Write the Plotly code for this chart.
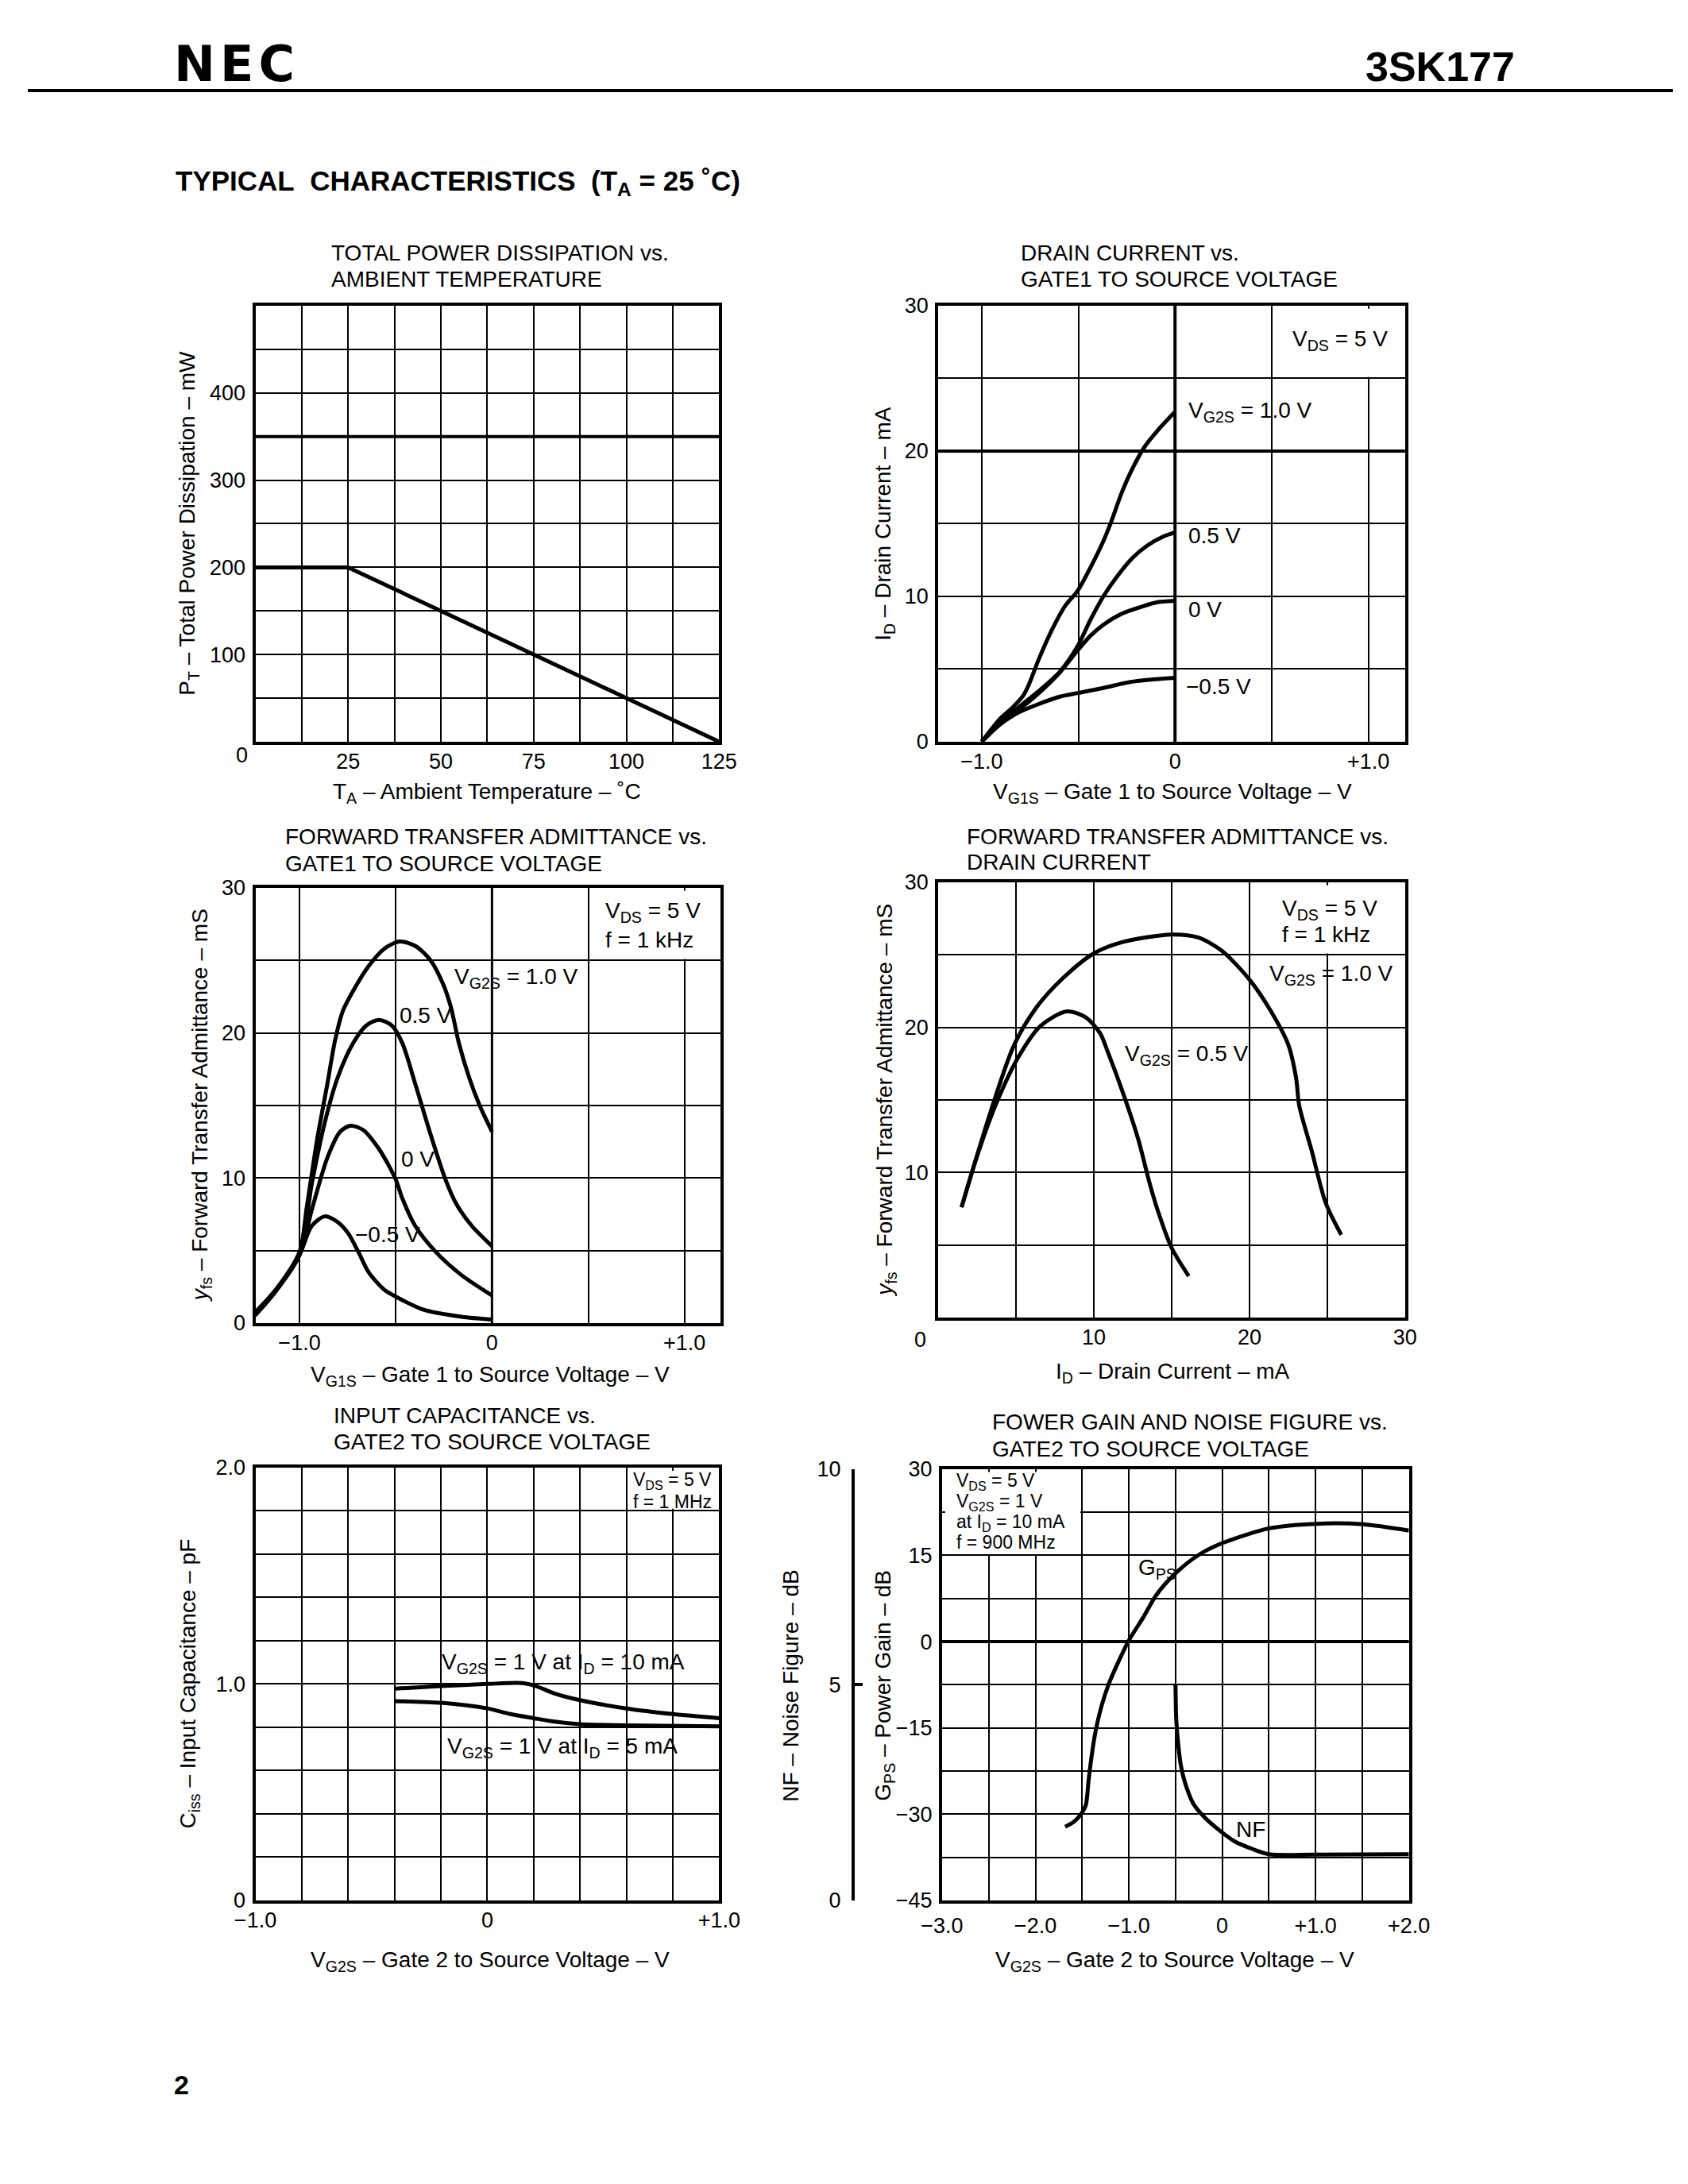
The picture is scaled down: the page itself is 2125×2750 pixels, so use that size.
import plotly.graph_objects as go

W, H = 2125, 2750          # figure size
OFF = 8                    # the page body margin shifts the figure; compensate positions
FONT = "Liberation Sans, Arial, Helvetica, sans-serif"
MINUS = "\u2212"

# ---------------- data ----------------
# 1) Total power dissipation vs. ambient temperature
p1_ta = [0, 25, 125]
p1_pt = [200, 200, 0]
p1_x_ticks = [0, 12.5, 25, 37.5, 50, 62.5, 75, 87.5, 100, 112.5, 125]
p1_x_labels = ["", "", "25", "", "50", "", "75", "", "100", "", "125"]
p1_y_ticks = [0, 50, 100, 150, 200, 250, 300, 350, 400, 450, 500]
p1_y_labels = ["", "", "100", "", "200", "", "300", "", "400", "", ""]

# 2) Drain current vs. gate1 to source voltage (VDS = 5 V)
p2_vg1s_10 = [-1.0, -0.904, -0.837, -0.784, -0.757, -0.704, -0.637, -0.571, -0.503, -0.437,
              -0.371, -0.331, -0.277, -0.224, -0.157, -0.091, 0.0]
p2_id_10 = [0.0, 1.6, 2.4, 3.2, 3.9, 5.7, 7.7, 9.3, 10.4, 12.0, 13.8, 15.1, 17.1, 18.7, 20.3, 21.4, 22.7]
p2_vg1s_05 = [-1.0, -0.904, -0.811, -0.704, -0.597, -0.503, -0.437, -0.371, -0.304, -0.224, -0.144, -0.064, 0.0]
p2_id_05 = [0.0, 1.36, 2.35, 3.5, 4.8, 6.6, 8.4, 10.0, 11.3, 12.6, 13.5, 14.1, 14.4]
p2_vg1s_00 = [-1.0, -0.904, -0.811, -0.704, -0.597, -0.503, -0.437, -0.371, -0.277, -0.171, -0.091, 0.0]
p2_id_00 = [0.0, 1.3, 2.17, 3.35, 4.75, 6.3, 7.3, 8.05, 8.8, 9.3, 9.6, 9.7]
p2_vg1s_m05 = [-1.0, -0.904, -0.811, -0.704, -0.597, -0.503, -0.371, -0.237, -0.104, 0.0]
p2_id_m05 = [0.0, 1.2, 2.0, 2.6, 3.1, 3.35, 3.7, 4.1, 4.3, 4.4]
vg1s_ticks = [-1.0, -0.5, 0.0, 0.5, 1.0]
vg1s_labels = [MINUS + "1.0", "", "0", "", "+1.0"]
ma30_ticks = [0, 5, 10, 15, 20, 25, 30]
ma30_labels = ["0", "", "10", "", "20", "", "30"]

# 3) Forward transfer admittance vs. gate1 to source voltage
p3_vg1s_10 = [-1.231, -1.123, -1.0, -0.962, -0.909, -0.855, -0.815, -0.775, -0.721, -0.641, -0.560,
              -0.480, -0.399, -0.319, -0.252, -0.212, -0.172, -0.118, -0.064, 0.0]
p3_yfs_10 = [0.73, 2.3, 4.9, 8.0, 12.6, 16.5, 19.5, 21.5, 22.9, 24.6, 25.8,
             26.3, 26.0, 25.0, 23.3, 21.7, 19.3, 16.9, 15.0, 13.2]
p3_vg1s_05 = [-1.231, -1.123, -1.0, -0.936, -0.869, -0.802, -0.721, -0.654, -0.587, -0.520, -0.466,
              -0.399, -0.319, -0.239, -0.185, -0.105, 0.0]
p3_yfs_05 = [0.53, 2.2, 4.7, 9.6, 13.8, 16.9, 19.3, 20.5, 20.9, 20.5, 19.3,
             16.5, 13.0, 9.8, 8.2, 6.7, 5.3]
p3_vg1s_00 = [-1.231, -1.123, -1.0, -0.936, -0.855, -0.788, -0.735, -0.668, -0.587, -0.534, -0.497,
              -0.466, -0.399, -0.292, -0.158, 0.0]
p3_yfs_00 = [0.53, 2.2, 4.7, 7.8, 11.4, 13.2, 13.6, 13.3, 12.0, 10.8, 9.8,
             8.6, 6.7, 4.9, 3.3, 1.9]
p3_vg1s_m05 = [-1.231, -1.097, -1.0, -0.936, -0.869, -0.802, -0.748, -0.694, -0.641, -0.560, -0.497,
               -0.359, -0.158, 0.0]
p3_yfs_m05 = [0.63, 2.7, 4.7, 6.7, 7.35, 6.96, 6.2, 4.9, 3.5, 2.3, 1.8, 0.93, 0.43, 0.24]

# 4) Forward transfer admittance vs. drain current
p4_id_10 = [1.5, 2.22, 3.43, 4.88, 6.33, 8.02, 10.0, 11.9, 15.0, 16.7, 18.2, 20.0, 21.5, 22.5,
            23.0, 23.2, 24.0, 24.9, 25.9]
p4_yfs_10 = [7.6, 10.2, 14.4, 18.8, 21.4, 23.4, 25.1, 25.9, 26.4, 26.2, 25.3, 23.3, 20.9, 18.8,
             16.5, 14.6, 11.5, 7.9, 5.7]
p4_id_05 = [1.5, 2.46, 3.67, 5.12, 6.57, 8.26, 9.47, 10.4, 10.9, 11.9, 12.85, 13.6, 14.1, 15.0, 16.1]
p4_yfs_05 = [7.6, 11.0, 14.6, 17.9, 20.1, 21.1, 20.7, 19.6, 18.3, 15.4, 12.3, 9.2, 7.4, 4.8, 2.85]
p4_x_labels = ["", "", "10", "", "20", "", "30"]
p4_y_labels = ["", "", "10", "", "20", "", "30"]

# 5) Input capacitance vs. gate2 to source voltage
p5_vg2s_10ma = [-0.4, -0.2, 0.0, 0.15, 0.21, 0.29, 0.4, 0.6, 0.8, 1.0]
p5_ciss_10ma = [0.978, 0.990, 1.0, 1.004, 0.99, 0.956, 0.925, 0.887, 0.861, 0.842]
p5_vg2s_5ma = [-0.4, -0.2, 0.0, 0.1, 0.2, 0.29, 0.4, 0.6, 1.0]
p5_ciss_5ma = [0.921, 0.913, 0.887, 0.861, 0.842, 0.826, 0.814, 0.809, 0.804]
p5_x_ticks = [-1.0, -0.8, -0.6, -0.4, -0.2, 0.0, 0.2, 0.4, 0.6, 0.8, 1.0]
p5_x_labels = [MINUS + "1.0", "", "", "", "", "0", "", "", "", "", "+1.0"]
p5_y_ticks = [0.0, 0.2, 0.4, 0.6, 0.8, 1.0, 1.2, 1.4, 1.6, 1.8, 2.0]
p5_y_labels = ["0", "", "", "", "", "1.0", "", "", "", "", "2.0"]

# 6) Power gain and noise figure vs. gate2 to source voltage
p6_vg2s_gps = [-1.682, -1.585, -1.5, -1.46, -1.432, -1.405, -1.363, -1.294, -1.211, -1.114, -1.0,
               -0.846, -0.706, -0.492, -0.24, 0.012, 0.506, 1.01, 1.508, 2.0]
p6_gps = [-32.2, -31.3, -29.7, -28.4, -24.3, -20.7, -16.2, -11.3, -7.2, -3.6, 0.2,
          4.2, 8.1, 12.0, 15.2, 17.2, 19.7, 20.5, 20.4, 19.3]
p6_vg2s_nf = [-0.5, -0.492, -0.47, -0.44, -0.394, -0.311, -0.2, -0.062, 0.132, 0.326, 0.5, 1.0, 2.0]
p6_nf = [5.0, 4.2, 3.6, 3.1, 2.7, 2.25, 1.95, 1.68, 1.37, 1.19, 1.07, 1.06, 1.07]
p6_x_ticks = [-3.0, -2.5, -2.0, -1.5, -1.0, -0.5, 0.0, 0.5, 1.0, 1.5, 2.0]
p6_x_labels = [MINUS + "3.0", "", MINUS + "2.0", "", MINUS + "1.0", "", "0", "", "+1.0", "", "+2.0"]
p6_y_ticks = [-45, -37.5, -30, -22.5, -15, -7.5, 0, 7.5, 15, 22.5, 30]
p6_y_labels = [MINUS + "45", "", MINUS + "30", "", MINUS + "15", "", "0", "", "15", "", "30"]
p6_nf_ticks = [0, 5, 10]
p6_nf_labels = ["0", "5", "10"]


# ---------------- helpers (page px -> paper) ----------------
def px(x):
    return (x - OFF) / W


def py(y):
    return 1 - (y - OFF) / H


def dom_x(a, b):
    return [px(a), px(b)]


def dom_y(top, bottom):
    return [py(bottom), py(top)]


def axis(domain, rng, vals, texts, anchor, **kw):
    d = dict(domain=domain, range=rng, tickmode="array", tickvals=vals, ticktext=texts,
             anchor=anchor, showline=True, linecolor="black", linewidth=4, mirror=True,
             showgrid=True, gridcolor="black", gridwidth=2, zeroline=False, ticks="",
             tickfont=dict(family=FONT, size=27, color="black"), fixedrange=True)
    d.update(kw)
    return d


fig = go.Figure()


def curve(x, y, xa, ya, shape="spline"):
    fig.add_trace(go.Scatter(x=x, y=y, xaxis=xa, yaxis=ya, mode="lines",
                             line=dict(color="black", width=5, shape=shape, smoothing=0.8),
                             hoverinfo="skip", showlegend=False))


curve(p1_ta, p1_pt, "x", "y", shape="linear")
curve(p2_vg1s_10, p2_id_10, "x2", "y2")
curve(p2_vg1s_05, p2_id_05, "x2", "y2")
curve(p2_vg1s_00, p2_id_00, "x2", "y2")
curve(p2_vg1s_m05, p2_id_m05, "x2", "y2")
curve(p3_vg1s_10, p3_yfs_10, "x3", "y3")
curve(p3_vg1s_05, p3_yfs_05, "x3", "y3")
curve(p3_vg1s_00, p3_yfs_00, "x3", "y3")
curve(p3_vg1s_m05, p3_yfs_m05, "x3", "y3")
curve(p4_id_10, p4_yfs_10, "x4", "y4")
curve(p4_id_05, p4_yfs_05, "x4", "y4")
curve(p5_vg2s_10ma, p5_ciss_10ma, "x5", "y5")
curve(p5_vg2s_5ma, p5_ciss_5ma, "x5", "y5")
curve(p6_vg2s_gps, p6_gps, "x6", "y6")
curve(p6_vg2s_nf, p6_nf, "x6", "y7")

# panel frames (page px)
D1 = (dom_x(302, 901), dom_y(374, 929))
D2 = (dom_x(1184, 1787), dom_y(374, 929))
D3 = (dom_x(302, 903), dom_y(1115, 1669))
D4 = (dom_x(1184, 1787), dom_y(1108, 1662))
D5 = (dom_x(302, 901), dom_y(1853, 2404))
D6 = (dom_x(1189, 1792), dom_y(1855, 2404))

XS = dict(ticklabelstandoff=-2)
YS = dict(ticklabelstandoff=3)

P1X, P2X, P3X = [0, 125], [-1.225, 1.19], [-1.229, 1.188]
P6X = [-3.0, 2.0]

layout = dict(
    width=W, height=H, margin=dict(l=0, r=0, t=0, b=0),
    paper_bgcolor="white", plot_bgcolor="white", showlegend=False,
    font=dict(family=FONT, size=28, color="black"),
    xaxis=axis(D1[0], P1X, p1_x_ticks, p1_x_labels, "y", **XS),
    yaxis=axis(D1[1], [0, 500], p1_y_ticks, p1_y_labels, "x", **YS),
    xaxis2=axis(D2[0], P2X, vg1s_ticks, vg1s_labels, "y2", **XS),
    yaxis2=axis(D2[1], [0, 30], ma30_ticks, ma30_labels, "x2", **YS),
    xaxis3=axis(D3[0], P3X, vg1s_ticks, vg1s_labels, "y3", **XS),
    yaxis3=axis(D3[1], [0, 30], ma30_ticks, ma30_labels, "x3", **YS),
    xaxis4=axis(D4[0], [0, 30], ma30_ticks, p4_x_labels, "y4", **XS),
    yaxis4=axis(D4[1], [0, 30], ma30_ticks, p4_y_labels, "x4", **YS),
    xaxis5=axis(D5[0], [-1.0, 1.0], p5_x_ticks, p5_x_labels, "y5", **XS),
    yaxis5=axis(D5[1], [0, 2.0], p5_y_ticks, p5_y_labels, "x5", **YS),
    xaxis6=axis(D6[0], P6X, p6_x_ticks, p6_x_labels, "y6", ticklabelstandoff=5),
    yaxis6=axis(D6[1], [-45, 30], p6_y_ticks, p6_y_labels, "x6", **YS),
    yaxis7=dict(domain=D6[1], range=[0, 10], overlaying="y6", anchor="free", position=px(1074),
                side="left", tickmode="array", tickvals=p6_nf_ticks, ticktext=p6_nf_labels,
                showline=True, linecolor="black", linewidth=4, showgrid=False, zeroline=False,
                ticks="inside", ticklen=10, tickwidth=4, tickcolor="black", ticklabelstandoff=8,
                tickfont=dict(family=FONT, size=27, color="black"), fixedrange=True),
)
fig.update_layout(**layout)

shapes = []
# white covers where the reference grid is interrupted by text boxes
for xr, x0, x1, yr, y0, y1 in [
    ("x2", 0.76, 1.174, "y2", 25.1, 29.8),
    ("x3", 0.76, 1.172, "y3", 25.1, 29.8),
    ("x4", 22.6, 29.8, "y4", 25.1, 29.8),
    ("x5", 0.61, 0.987, "y5", 1.81, 1.985),
    ("x6", -2.967, -1.52, "y6", 15.2, 29.5),
]:
    shapes.append(dict(type="rect", xref=xr, yref=yr, x0=x0, x1=x1, y0=y0, y1=y1,
                       fillcolor="white", line=dict(width=0), layer="between"))
# heavier grid lines (drawn under the normal grid, so they just look thicker)
for xr, yr, x0, x1, y0, y1, w in [
    ("x", "y", P1X[0], P1X[1], 350, 350, 4),
    ("x2", "y2", P2X[0], P2X[1], 20, 20, 4),
    ("x2", "y2", 0, 0, 0, 30, 4),
    ("x3", "y3", 0, 0, 0, 30, 3),
    ("x6", "y6", P6X[0], P6X[1], 0, 0, 4),
]:
    shapes.append(dict(type="line", xref=xr, yref=yr, x0=x0, x1=x1, y0=y0, y1=y1,
                       line=dict(color="black", width=w), layer="below"))
# header rule
shapes.append(dict(type="line", xref="paper", yref="paper", x0=0, x1=1, y0=py(100), y1=py(100),
                   line=dict(color="black", width=4)))
fig.update_layout(shapes=shapes)

ann = []


def A(text, x, y, xref="paper", yref="paper", xanchor="left", yanchor="middle", size=28,
      family=FONT, angle=0):
    ann.append(dict(text=text, x=x, y=y, xref=xref, yref=yref, xanchor=xanchor, yanchor=yanchor,
                    showarrow=False, textangle=angle, font=dict(family=family, size=size, color="black")))


# header
A("<b>N\u200aE\u200aC</b>", px(195), py(66), size=62, family="DejaVu Sans, Liberation Sans, sans-serif")
A("<b>3SK177</b>", px(1931), py(70), xanchor="right", size=52)
A("<b>TYPICAL\u00a0\u00a0CHARACTERISTICS\u00a0\u00a0(T<sub>A</sub> = 25 \u02daC)</b>",
  px(197), py(217), size=35)
A("<b>2</b>", px(207), py(2639), xanchor="center", size=34)

# panel titles
for x, y, t in [
    (398, 307, "TOTAL POWER DISSIPATION vs."), (398, 340, "AMBIENT TEMPERATURE"),
    (1289, 307, "DRAIN CURRENT vs."), (1289, 340, "GATE1 TO SOURCE VOLTAGE"),
    (338, 1050, "FORWARD TRANSFER ADMITTANCE vs."), (338, 1084, "GATE1 TO SOURCE VOLTAGE"),
    (1219, 1050, "FORWARD TRANSFER ADMITTANCE vs."), (1219, 1082, "DRAIN CURRENT"),
    (401, 1787, "INPUT CAPACITANCE vs."), (401, 1820, "GATE2 TO SOURCE VOLTAGE"),
    (1252, 1795, "FOWER GAIN AND NOISE FIGURE vs."), (1252, 1829, "GATE2 TO SOURCE VOLTAGE"),
]:
    A(t, px(x), py(y))

# axis titles
A("P<sub>T</sub> \u2013 Total Power Dissipation \u2013 mW", px(216), py(651), xanchor="center", angle=-90)
A("T<sub>A</sub> \u2013 Ambient Temperature \u2013 \u02daC", px(601), py(994), xanchor="center")
A("I<sub>D</sub> \u2013 Drain Current \u2013 mA", px(1115), py(651), xanchor="center", angle=-90)
A("V<sub>G1S</sub> \u2013 Gate 1 to Source Voltage \u2013 V", px(1487), py(994), xanchor="center")
A("<i>y</i><sub>fs</sub> \u2013 Forward Transfer Admittance \u2013 mS", px(233), py(1392), xanchor="center", angle=-90)
A("V<sub>G1S</sub> \u2013 Gate 1 to Source Voltage \u2013 V", px(605), py(1736), xanchor="center")
A("<i>y</i><sub>fs</sub> \u2013 Forward Transfer Admittance \u2013 mS", px(1117), py(1385), xanchor="center", angle=-90)
A("I<sub>D</sub> \u2013 Drain Current \u2013 mA", px(1487), py(1732), xanchor="center")
A("C<sub>iss</sub> \u2013 Input Capacitance \u2013 pF", px(217), py(2128), xanchor="center", angle=-90)
A("V<sub>G2S</sub> \u2013 Gate 2 to Source Voltage \u2013 V", px(605), py(2481), xanchor="center")
A("NF \u2013 Noise Figure \u2013 dB", px(994), py(2130), xanchor="center", angle=-90)
A("G<sub>PS</sub> \u2013 Power Gain \u2013 dB", px(1115), py(2130), xanchor="center", angle=-90)
A("V<sub>G2S</sub> \u2013 Gate 2 to Source Voltage \u2013 V", px(1490), py(2481), xanchor="center")

# corner zero labels
A("0", px(285), py(946), xanchor="center", size=27)
A("0", px(1161), py(1690), xanchor="center", size=27)

# in-plot labels
A("V<sub>DS</sub> = 5 V", 0.6, 27.6, "x2", "y2")
A("V<sub>G2S</sub> = 1.0 V", 0.06, 22.7, "x2", "y2")
A("0.5 V", 0.06, 14.2, "x2", "y2")
A("0 V", 0.06, 9.1, "x2", "y2")
A(MINUS + "0.5 V", 0.05, 3.8, "x2", "y2")

A("V<sub>DS</sub> = 5 V", 0.58, 28.3, "x3", "y3")
A("f = 1 kHz", 0.58, 26.4, "x3", "y3")
A("V<sub>G2S</sub> = 1.0 V", -0.205, 23.8, "x3", "y3")
A("0.5 V", -0.487, 21.2, "x3", "y3")
A("0 V", -0.48, 11.3, "x3", "y3")
A(MINUS + "0.5 V", -0.72, 6.1, "x3", "y3")

A("V<sub>DS</sub> = 5 V", 22.0, 28.1, "x4", "y4")
A("f = 1 kHz", 22.0, 26.4, "x4", "y4")
A("V<sub>G2S</sub> = 1.0 V", 21.2, 23.6, "x4", "y4")
A("V<sub>G2S</sub> = 0.5 V", 11.9, 18.1, "x4", "y4")

A("V<sub>DS</sub> = 5 V", 0.623, 1.94, "x5", "y5", size=23)
A("f = 1 MHz", 0.623, 1.84, "x5", "y5", size=23)
A("V<sub>G2S</sub> = 1 V at I<sub>D</sub> = 10 mA", -0.202, 1.094, "x5", "y5")
A("V<sub>G2S</sub> = 1 V at I<sub>D</sub> = 5 mA", -0.178, 0.705, "x5", "y5")

A("V<sub>DS</sub> = 5 V", -2.86, 27.9, "x6", "y6", size=23)
A("V<sub>G2S</sub> = 1 V", -2.86, 24.3, "x6", "y6", size=23)
A("at I<sub>D</sub> = 10 mA", -2.86, 20.7, "x6", "y6", size=23)
A("f = 900 MHz", -2.86, 17.3, "x6", "y6", size=23)
A("G<sub>PS</sub>", -0.916, 12.6, "x6", "y6")
A("NF", 0.13, -32.6, "x6", "y6")

fig.update_layout(annotations=ann)
fig.write_html("out.html")
